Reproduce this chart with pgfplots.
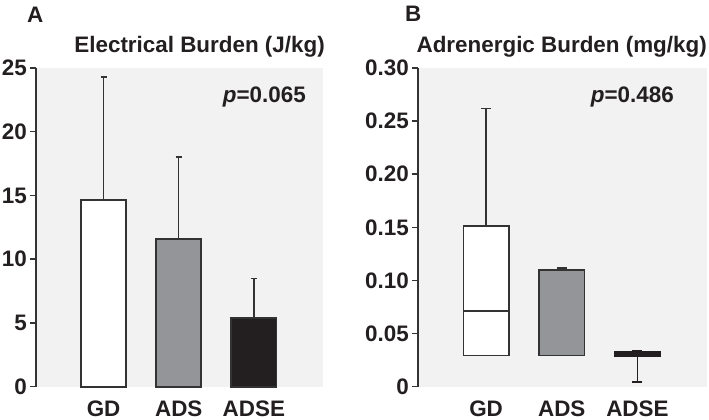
\documentclass[border=0pt]{standalone}
\usepackage{fontspec}
\setmainfont{Liberation Sans}
\usepackage{pgfplots}
\pgfplotsset{compat=1.18}
\usepgfplotslibrary{statistics}
\definecolor{bggray}{HTML}{F2F2F2}
\definecolor{adsgray}{HTML}{939598}
\definecolor{darkfill}{HTML}{231F20}
\definecolor{linecol}{HTML}{333333}
\definecolor{textcol}{HTML}{231F20}
\newcommand\bigfont{\fontsize{22.5}{26}\selectfont\bfseries}
\pgfplotsset{
  panel/.style={
    scale only axis, height=318.7bp,
    axis lines=left,
    x axis line style={draw=none},
    y axis line style={-, draw=linecol, line width=1.5bp},
    axis background/.style={fill=bggray},
    tick align=outside, major tick length=6bp,
    xtick style={draw=none},
    ytick style={draw=linecol, line width=1.5bp},
    xmin=-0.9, xmax=2.92,
    xtick={0,1,2}, xticklabels={GD,ADS,ADSE},
    ticklabel style={font=\bigfont, text=textcol},
    /pgf/number format/assume math mode=true,
    xticklabel style={anchor=north, inner sep=0pt, yshift=-8bp},
    yticklabel style={anchor=east, inner sep=0pt, xshift=-3bp},
    clip=false,
  },
  errstyle/.style={
    error bars/.cd, y dir=plus, y explicit,
    error bar style={line width=1.5bp, draw=linecol},
    error mark options={rotate=90, mark size=3bp, line width=1.5bp, draw=linecol}},
}
\begin{document}
\begin{tikzpicture}
\useasboundingbox (0bp,0bp) rectangle (709bp,420bp);
% panel A
\begin{axis}[panel, at={(36bp,33.3bp)}, anchor=south west, width=287bp,
  ymin=0, ymax=25, ytick={0,5,10,15,20,25}]
  \addplot[ybar, bar width=0.6, bar shift=0pt, fill=white, draw=linecol, line width=1.7bp, errstyle]
    coordinates {(0,14.62) +- (0,9.68)};
  \addplot[ybar, bar width=0.6, bar shift=0pt, fill=adsgray, draw=linecol, line width=1.7bp, errstyle]
    coordinates {(1,11.58) +- (0,6.45)};
  \addplot[ybar, bar width=0.6, bar shift=0pt, fill=darkfill, draw=linecol, line width=1.7bp, errstyle]
    coordinates {(2,5.39) +- (0,3.08)};
\end{axis}
% panel B
\begin{axis}[panel, at={(418bp,33.3bp)}, anchor=south west, width=289bp,
  ymin=0, ymax=0.30, ytick={0,0.05,0.10,0.15,0.20,0.25,0.30},
  yticklabels={0,0.05,0.10,0.15,0.20,0.25,0.30},
  boxplot/draw direction=y]
  \addplot[fill=white, draw=linecol, line width=1.7bp,
    boxplot prepared={draw position=0, lower whisker=0.0295, lower quartile=0.0295,
      median=0.0715, upper quartile=0.151, upper whisker=0.262,
      box extend=0.6, whisker extend=0.13}] coordinates {};
  \addplot[fill=adsgray, draw=linecol, line width=1.7bp,
    boxplot prepared={draw position=1, lower whisker=0.0295, lower quartile=0.0295,
      median=0.0295, upper quartile=0.110, upper whisker=0.1115,
      box extend=0.6, whisker extend=0.13}] coordinates {};
  \addplot[fill=darkfill, draw=darkfill, line width=1.7bp,
    boxplot prepared={draw position=2, lower whisker=0.0047, lower quartile=0.0292,
      median=0.0308, upper quartile=0.0324, upper whisker=0.0336,
      box extend=0.6, whisker extend=0.13}] coordinates {};
\end{axis}
\node[anchor=base west, text=textcol, inner sep=0pt] at (27bp,397.3bp) {\bigfont A};
\node[anchor=base west, text=textcol, inner sep=0pt] at (405bp,398.3bp) {\bigfont B};
\node[anchor=base east, text=textcol, inner sep=0pt] at (325bp,367bp) {\bigfont Electrical Burden (J/kg)};
\node[anchor=base east, text=textcol, inner sep=0pt] at (707bp,367bp) {\bigfont Adrenergic Burden (mg/kg)};
\node[anchor=base west, text=textcol, inner sep=0pt] at (222.7bp,317bp) {\bigfont\textit{p}=0.065};
\node[anchor=base west, text=textcol, inner sep=0pt] at (590.7bp,317bp) {\bigfont\textit{p}=0.486};
\end{tikzpicture}
\end{document}
